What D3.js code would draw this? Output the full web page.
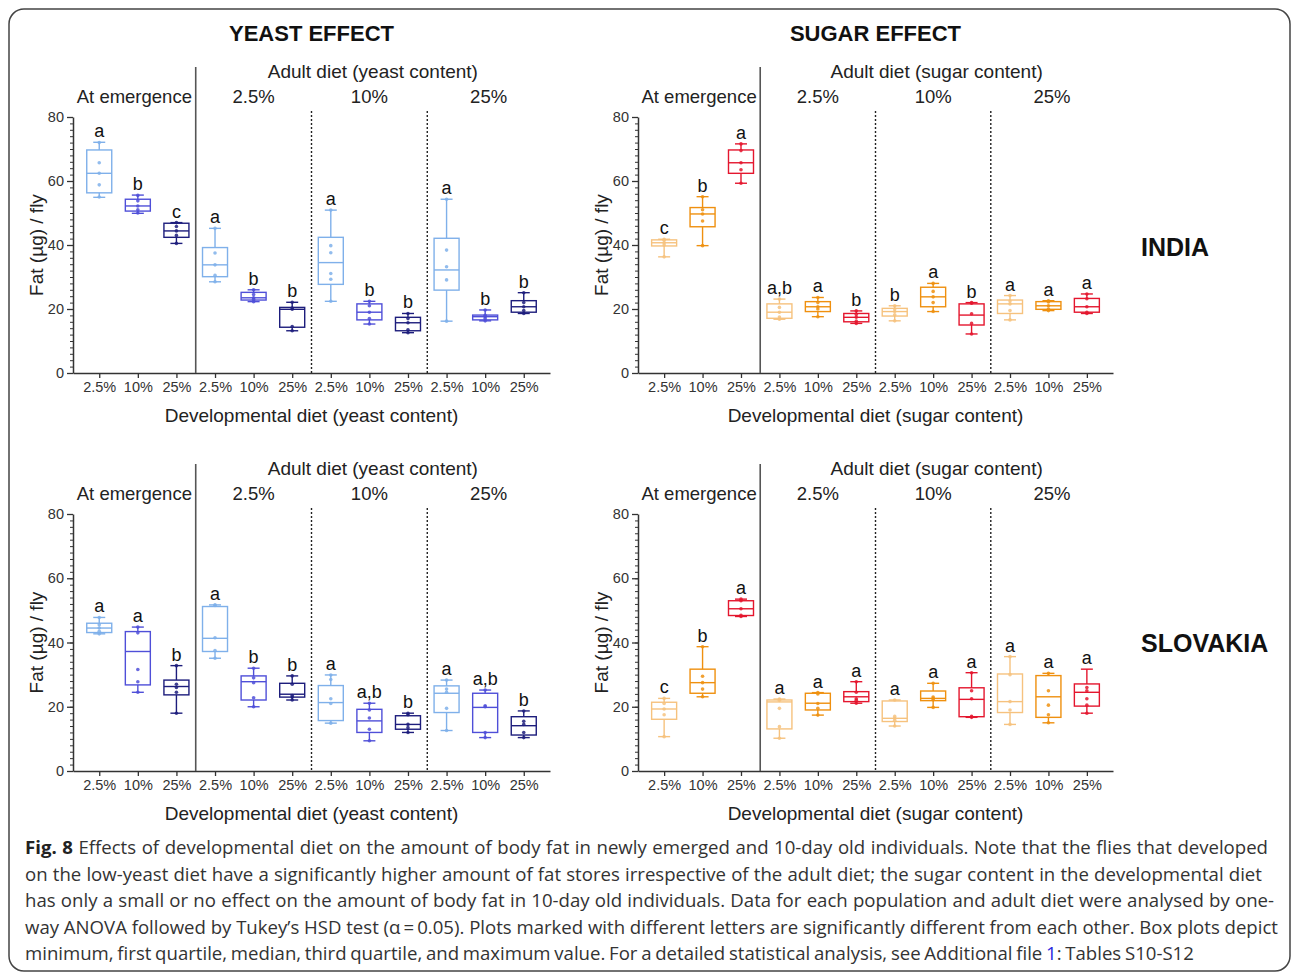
<!DOCTYPE html>
<html>
<head>
<meta charset="utf-8">
<script src="https://cdn.jsdelivr.net/npm/d3@7"></script>
<style>
  body { margin: 0; background: #fff; }
  svg text { font-family: "Liberation Sans", Arial, sans-serif; }
  .cap text { font-family: "Open Sans", "Noto Sans", sans-serif; }
</style>
</head>
<body>
<svg id="fig" width="1292" height="975"></svg>
<script>
// developmental diet (x tick labels) and adult diet sections
var devDiet = ["2.5%", "10%", "25%"];
var sections = ["At emergence", "2.5%", "10%", "25%"];

// box stats per group: [min, q1, median, q3, max]
var indiaYeast = [
  [54.9,56.3,62.4,69.7,72.1],[49.9,50.6,52.2,54.3,55.6],[40.5,42.4,44.4,46.8,47.0],
  [28.5,30.1,33.8,39.2,45.2],[22.3,22.8,23.5,25.2,26.0],[13.2,14.3,19.9,20.5,22.1],
  [22.4,27.7,34.5,42.4,50.9],[15.3,16.6,19.0,21.6,22.4],[12.6,13.2,15.7,17.4,18.6],
  [16.2,25.9,32.2,42.1,54.3],[16.3,16.6,17.6,18.1,19.7],[18.6,19.0,20.7,22.6,25.1]
];
var indiaYeastDots = [
  [55,58.8,62.4,65.7,72],[50,51,52.2,53.8,55.5],[40.5,43,44.4,45.8,47],
  [28.5,30.5,33.8,37.5,45.2],[22.3,23,23.5,24.5,26],[13.2,14.5,19.9,20.3,22.1],
  [22.4,29.3,31.1,37.6,39.8,50.9],[15.3,17,19,21,22.4],[12.6,13.5,15.7,17,18.6],
  [16.2,29.1,33.2,38.4,54.3],[16.3,17,17.6,18,19.7],[18.6,19.5,20.7,22,25.1]
];
var indiaYeastLetters = ["a","b","c","a","b","b","a","b","b","a","b","b"];

var indiaSugar = [
  [36.3,39.7,40.7,41.6,41.8],[39.8,45.7,49.7,51.7,55.1],[59.3,62.4,65.7,69.7,71.6],
  [16.8,17.1,19.0,21.6,23.1],[17.6,19.2,20.7,22.3,23.6],[15.5,16.0,17.4,18.6,19.4],
  [16.3,17.8,19.2,20.2,21.0],[19.2,20.7,23.8,26.8,28.0],[12.2,15.0,18.1,21.6,22.0],
  [16.6,18.6,21.6,22.8,24.2],[19.5,19.9,21.0,22.3,22.6],[18.6,19.0,20.7,23.3,24.7]
];
var indiaSugarDots = [
  [36.3,40,40.7,41.5,41.8],[39.8,47.5,49.7,51,55.1],[59.3,63.5,65.7,69.5,71.6],
  [16.8,17.5,19,20.5,23.1],[17.6,20,20.7,22,23.6],[15.5,16.2,17.4,18.3,19.4],
  [16.3,18.2,19.2,20,21],[19.2,22,23.8,25.5,28],[12.2,15.5,18.5,21.8,22],
  [16.6,19.5,21.6,22.5,24.2],[19.5,20,21,22.2,22.6],[18.6,19,20.7,23.2,24.7]
];
var indiaSugarLetters = ["c","b","a","a,b","a","b","b","a","b","a","a","a"];

var slovakiaYeast = [
  [42.7,43.1,44.5,46.0,47.8],[24.5,26.8,37.2,43.4,44.8],[18.0,23.7,26.3,28.3,32.8],
  [35.1,37.2,41.3,51.2,51.7],[20.0,22.1,27.8,29.6,32.0],[22.1,23.0,23.9,27.3,29.6],
  [14.9,15.7,21.3,26.6,29.9],[9.4,12.0,15.6,19.2,21.1],[12.0,13.0,14.5,17.2,18.0],
  [12.6,18.2,24.2,26.5,28.3],[10.4,12.0,19.8,24.2,25.2],[10.4,11.2,14.1,16.9,18.7]
];
var slovakiaYeastDots = [
  [42.7,43.5,44.5,45.5,47.8],[24.5,27.8,31.6,43,44.8],[18,24.5,26,27,32.8],
  [35.1,37.5,41.5,51.5,51.7],[20,22.8,27.5,29,32],[22.1,23,23.5,27,29.6],
  [14.9,21,22.5,28.5,29.9],[9.4,13,16.5,19,21.1],[12,13.5,14.5,17.5,18],
  [12.6,19.5,24.5,25.5,28.3],[10.4,12,20,20.3,25.2],[10.4,12,14.5,15.5,18.7]
];
var slovakiaYeastLetters = ["a","a","b","a","b","b","a","a,b","b","a","a,b","b"];

var slovakiaSugar = [
  [10.7,16.1,19.3,21.4,22.6],[23.1,24.2,27.5,31.7,38.7],[48.1,48.4,50.5,53.0,53.5],
  [10.2,13.1,21.5,22.1,22.4],[17.4,19.0,21.1,24.2,24.4],[21.1,21.6,23.1,24.7,27.8],
  [14.0,15.4,16.4,21.8,22.1],[19.8,21.9,22.6,24.9,27.3],[16.7,16.9,22.3,25.9,30.6],
  [14.5,18.2,21.6,30.2,35.6],[15.0,16.7,23.1,29.7,30.4],[18.0,20.2,24.5,27.1,31.7]
];
var slovakiaSugarDots = [
  [10.7,17.5,19.3,21,22.6],[23.1,25.5,27.5,29.5,38.7],[48.1,48.5,50.5,53,53.5],
  [10.2,13.8,19.5,22,22.4],[17.4,19.5,21,24,24.4],[21.1,22,22.5,24.5,27.8],
  [14,15.8,16.4,17,22.1],[19.8,22.2,22.6,23,27.3],[16.7,17,22.5,25,30.6],
  [14.5,19,21.6,30,35.6],[15,17.5,20.5,25,30.4],[18,20.5,22.5,25,26]
];
var slovakiaSugarLetters = ["c","b","a","a","a","a","a","a","a","a","a","a"];

var yTicks = [0, 20, 40, 60, 80];

var yeastColors = ["#7fb0ea", "#4f4fd8", "#1d1d7c"];
var sugarColors = ["#f6c27e", "#ef900f", "#e4162e"];

var captionLines = [
  "Effects of developmental diet on the amount of body fat in newly emerged and 10-day old individuals. Note that the flies that developed",
  "on the low-yeast diet have a significantly higher amount of fat stores irrespective of the adult diet; the sugar content in the developmental diet",
  "has only a small or no effect on the amount of body fat in 10-day old individuals. Data for each population and adult diet were analysed by one-",
  "way ANOVA followed by Tukey\u2019s HSD test (\u03b1\u2009=\u20090.05). Plots marked with different letters are significantly different from each other. Box plots depict",
  "minimum, first quartile, median, third quartile, and maximum value. For a detailed statistical analysis, see Additional file\u00a0"
];

var svg = d3.select("#fig");

// frame
svg.append("rect")
  .attr("x", 9).attr("y", 9).attr("width", 1281).attr("height", 962)
  .attr("rx", 15).attr("ry", 15)
  .attr("fill", "none").attr("stroke", "#444").attr("stroke-width", 1.5);

function panel(opt) {
  var g = svg.append("g");
  var y = d3.scaleLinear().domain([0, 80]).range([opt.yBot, opt.yTop]);
  var x = d3.scalePoint().domain(d3.range(12)).range([opt.x0, opt.x1]).padding(0.68);

  // minor y ticks
  g.append("g")
    .attr("transform", "translate(" + opt.x0 + ",0)")
    .call(d3.axisLeft(y).tickValues(d3.range(0, 81, 2)).tickSize(3).tickFormat(""))
    .call(function(a) { a.select(".domain").remove(); a.selectAll("line").attr("stroke", "#333"); });

  var ya = g.append("g")
    .attr("transform", "translate(" + opt.x0 + ",0)")
    .call(d3.axisLeft(y).tickValues(yTicks).tickSize(6).tickSizeOuter(0).tickPadding(3));
  ya.select(".domain").attr("stroke", "#333").attr("stroke-width", 1.5);
  ya.selectAll("line").attr("stroke", "#333").attr("stroke-width", 1.3);
  ya.selectAll("text").attr("font-size", "14.5px").attr("fill", "#333")
    .style("font-family", "Liberation Sans, Arial, sans-serif");

  var xa = g.append("g")
    .attr("transform", "translate(0," + opt.yBot + ")")
    .call(d3.axisBottom(x).tickFormat(function(i) { return devDiet[i % 3]; }).tickSize(5).tickSizeOuter(0).tickPadding(4));
  xa.select(".domain").attr("stroke", "#333").attr("stroke-width", 1.5);
  xa.selectAll("line").attr("stroke", "#333").attr("stroke-width", 1.3);
  xa.selectAll("text").attr("font-size", "14.5px").attr("fill", "#333")
    .style("font-family", "Liberation Sans, Arial, sans-serif");

  // separators
  var seps = [2, 5, 8].map(function(i) { return (x(i) + x(i + 1)) / 2; });
  g.append("line")
    .attr("x1", seps[0]).attr("x2", seps[0])
    .attr("y1", opt.yTop - 50).attr("y2", opt.yBot)
    .attr("stroke", "#555").attr("stroke-width", 1.6);
  g.selectAll(".dotted").data(seps.slice(1)).enter().append("line")
    .attr("x1", function(d) { return d; }).attr("x2", function(d) { return d; })
    .attr("y1", opt.yTop - 6).attr("y2", opt.yBot)
    .attr("stroke", "#222").attr("stroke-width", 1.4).attr("stroke-dasharray", "2,2");

  // headers
  var bounds = [opt.x0].concat(seps).concat([opt.x1]);
  g.selectAll(".sec").data(sections).enter().append("text")
    .attr("x", function(d, i) { return (bounds[i] + bounds[i + 1]) / 2; })
    .attr("y", opt.yTop - 14)
    .attr("text-anchor", "middle")
    .attr("font-size", "18.5px").attr("fill", "#222")
    .text(function(d) { return d; });
  g.append("text")
    .attr("x", (seps[0] + opt.x1) / 2).attr("y", opt.yTop - 39)
    .attr("text-anchor", "middle").attr("font-size", "19px").attr("fill", "#222")
    .text(opt.adultTitle);
  if (opt.title) {
    g.append("text")
      .attr("x", (opt.x0 + opt.x1) / 2).attr("y", opt.yTop - 76)
      .attr("text-anchor", "middle").attr("font-size", "22px").attr("font-weight", "bold")
      .attr("fill", "#111").text(opt.title);
  }
  g.append("text")
    .attr("x", (opt.x0 + opt.x1) / 2).attr("y", opt.yBot + 49)
    .attr("text-anchor", "middle").attr("font-size", "19px").attr("fill", "#222")
    .text(opt.xTitle);
  g.append("text")
    .attr("transform", "translate(" + (opt.x0 - 30) + "," + ((opt.yTop + opt.yBot) / 2) + ") rotate(-90)")
    .attr("text-anchor", "middle").attr("font-size", "19px").attr("fill", "#222")
    .text("Fat (\u00b5g) / fly");

  // boxes
  var bw = 25, cw = 12;
  var box = g.selectAll(".box").data(opt.data).enter().append("g")
    .attr("stroke", function(d, i) { return opt.colors[i % 3]; })
    .attr("fill", "none").attr("stroke-width", 1.4);
  box.append("line")
    .attr("x1", function(d, i) { return x(i); }).attr("x2", function(d, i) { return x(i); })
    .attr("y1", function(d) { return y(d[0]); }).attr("y2", function(d) { return y(d[4]); });
  box.append("rect")
    .attr("x", function(d, i) { return x(i) - bw / 2; }).attr("width", bw)
    .attr("y", function(d) { return y(d[3]); })
    .attr("height", function(d) { return y(d[1]) - y(d[3]); })
    .attr("fill", "#fff");
  box.append("line")
    .attr("x1", function(d, i) { return x(i) - bw / 2; }).attr("x2", function(d, i) { return x(i) + bw / 2; })
    .attr("y1", function(d) { return y(d[2]); }).attr("y2", function(d) { return y(d[2]); });
  [0, 4].forEach(function(k) {
    box.append("line")
      .attr("x1", function(d, i) { return x(i) - cw / 2; }).attr("x2", function(d, i) { return x(i) + cw / 2; })
      .attr("y1", function(d) { return y(d[k]); }).attr("y2", function(d) { return y(d[k]); });
  });

  // dots
  opt.dots.forEach(function(vals, i) {
    g.selectAll(null).data(vals).enter().append("circle")
      .attr("cx", x(i)).attr("cy", function(v) { return y(v); })
      .attr("r", 1.8).attr("fill", opt.colors[i % 3]).attr("opacity", 0.85);
  });

  // letters
  g.selectAll(".let").data(opt.letters).enter().append("text")
    .attr("x", function(d, i) { return x(i); })
    .attr("y", function(d, i) { return y(opt.data[i][4]) - 5; })
    .attr("text-anchor", "middle").attr("font-size", "18px").attr("fill", "#111")
    .text(function(d) { return d; });
}

panel({ x0: 73, x1: 550, yTop: 117, yBot: 373, data: indiaYeast, dots: indiaYeastDots,
  letters: indiaYeastLetters, colors: yeastColors, title: "YEAST EFFECT",
  adultTitle: "Adult diet (yeast content)", xTitle: "Developmental diet (yeast content)" });
panel({ x0: 638, x1: 1113, yTop: 117, yBot: 373, data: indiaSugar, dots: indiaSugarDots,
  letters: indiaSugarLetters, colors: sugarColors, title: "SUGAR EFFECT",
  adultTitle: "Adult diet (sugar content)", xTitle: "Developmental diet (sugar content)" });
panel({ x0: 73, x1: 550, yTop: 514, yBot: 771, data: slovakiaYeast, dots: slovakiaYeastDots,
  letters: slovakiaYeastLetters, colors: yeastColors, title: null,
  adultTitle: "Adult diet (yeast content)", xTitle: "Developmental diet (yeast content)" });
panel({ x0: 638, x1: 1113, yTop: 514, yBot: 771, data: slovakiaSugar, dots: slovakiaSugarDots,
  letters: slovakiaSugarLetters, colors: sugarColors, title: null,
  adultTitle: "Adult diet (sugar content)", xTitle: "Developmental diet (sugar content)" });

// population labels
svg.append("text").attr("x", 1141).attr("y", 256).attr("font-size", "25px")
  .attr("font-weight", "bold").attr("fill", "#111").text("INDIA");
svg.append("text").attr("x", 1141).attr("y", 652).attr("font-size", "25px")
  .attr("font-weight", "bold").attr("fill", "#111").text("SLOVAKIA");

// caption, lines fitted to their measured end points via word-spacing
var capEnds = [1268, 1262, 1274, 1278, 1195];
var cap = svg.append("g").attr("class", "cap");
captionLines.forEach(function(line, i) {
  var t = cap.append("text")
    .attr("x", 25).attr("y", 854 + i * 26.5)
    .attr("font-size", "18.6px").attr("fill", "#333");
  if (i === 0) {
    t.append("tspan").attr("font-weight", "bold").attr("fill", "#222").text("Fig. 8");
    t.append("tspan").text(" " + line);
  } else if (i === 4) {
    t.append("tspan").text(line);
    t.append("tspan").attr("fill", "#2a2ae0").text("1");
    t.append("tspan").text(": Tables S10-S12");
  } else {
    t.text(line);
  }
  var spaces = (t.text().match(/ /g) || []).length;
  var w = t.node().getComputedTextLength();
  var target = capEnds[i] - 25;
  t.attr("word-spacing", ((target - w) / spaces).toFixed(2) + "px");
});
</script>
</body>
</html>
